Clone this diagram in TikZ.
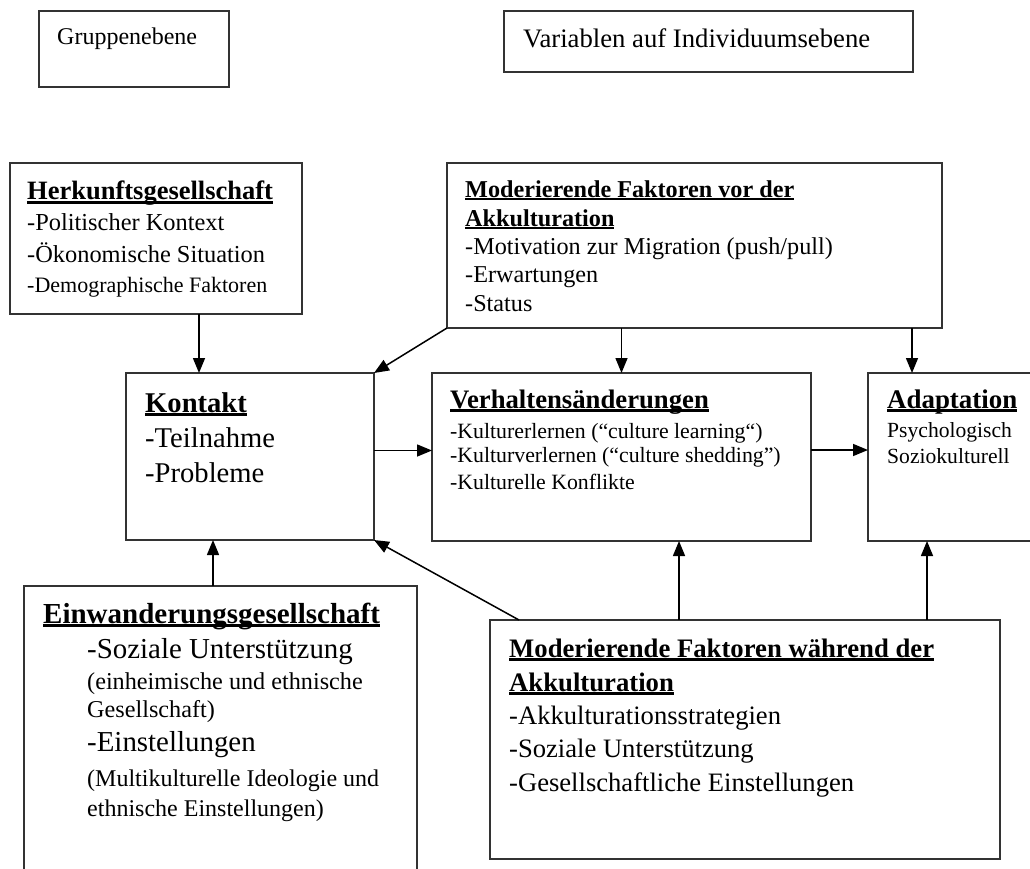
\documentclass[tikz,border=0pt]{standalone}
\usepackage{fontspec}
\setmainfont{Liberation Serif}
\usepackage{xcolor}
\usepackage{tikz}
\usetikzlibrary{arrows.meta,positioning,calc}

\newcommand{\fs}[1]{\fontsize{#1}{#1}\selectfont}
\newsavebox{\headbox}
\newcommand{\ulhead}[1]{\sbox{\headbox}{\bfseries #1}\rlap{\usebox{\headbox}}\raisebox{-0.14em}{\rule{\wd\headbox}{0.09em}}}

\tikzset{
  box/.style={draw=black!80, line width=1.5pt, inner sep=0pt, outer sep=0pt, anchor=north west},
  txt/.style={anchor=base west, inner sep=0pt},
  arr/.style={-{Triangle[length=15pt,width=12pt]}, line width=1.5pt}
}

\begin{document}
\begin{tikzpicture}[x=1pt,y=-1pt]
\useasboundingbox (0,0) rectangle (1030,869);
\clip (0,0) rectangle (1030,869);

% Ebenen
\node[box, minimum width=190pt, minimum height=76pt] (grp) at (39,11) {};
\node[txt, font=\fs{24}] (grp0) at (57,45) {Gruppenebene};
\node[box, minimum width=409pt, minimum height=61pt] (ind) at (504,11) {};
\node[txt, font=\fs{26.7}] (ind0) at (523,48) {Variablen auf Individuumsebene};

% Herkunftsgesellschaft
\node[box, minimum width=292pt, minimum height=151pt] (herk) at (10,163) {};
\node[txt, font=\fs{26.5}] (herk0) at (27,200) {\ulhead{Herkunftsgesellschaft}};
\node[txt, font=\fs{24.4}] (herk1) at (27,230) {-Politischer Kontext};
\node[txt, font=\fs{24.4}] (herk2) at (27,262) {-Ökonomische Situation};
\node[txt, font=\fs{22}] (herk3) at (27,292) {-Demographische Faktoren};

% Moderierende Faktoren vor der Akkulturation
\node[box, minimum width=495pt, minimum height=165pt] (vor) at (447,163) {};
\node[txt, font=\fs{24.2}] (vor0) at (465,197) {\ulhead{Moderierende Faktoren vor der}};
\node[txt, font=\fs{24.2}] (vor1) at (465,226) {\ulhead{Akkulturation}};
\node[txt, font=\fs{24.2}] (vor2) at (465,254) {-Motivation zur Migration (push/pull)};
\node[txt, font=\fs{24.2}] (vor3) at (465,282) {-Erwartungen};
\node[txt, font=\fs{24.2}] (vor4) at (465,311) {-Status};

% Kontakt
\node[box, minimum width=248pt, minimum height=167pt] (kon) at (126,373) {};
\node[txt, font=\fs{28.6}] (kon0) at (145,412) {\ulhead{Kontakt}};
\node[txt, font=\fs{28.6}] (kon1) at (145,447) {-Teilnahme};
\node[txt, font=\fs{28.6}] (kon2) at (145,482) {-Probleme};

% Verhaltensaenderungen
\node[box, minimum width=379pt, minimum height=168pt] (verh) at (432,373) {};
\node[txt, font=\fs{26.7}] (verh0) at (450,408) {\ulhead{Verhaltensänderungen}};
\node[txt, font=\fs{21.8}] (verh1) at (450,438) {-Kulturerlernen (“culture learning“)};
\node[txt, font=\fs{21.8}] (verh2) at (450,462) {-Kulturverlernen (“culture shedding”)};
\node[txt, font=\fs{21.8}] (verh3) at (450,489) {-Kulturelle Konflikte};

% Adaptation
\node[box, minimum width=180pt, minimum height=168pt] (adap) at (868,373) {};
\node[txt, font=\fs{26.9}] (adap0) at (887,408) {\ulhead{Adaptation}};
\node[txt, font=\fs{21.6}] (adap1) at (887,437) {Psychologisch};
\node[txt, font=\fs{21.6}] (adap2) at (887,463) {Soziokulturell};

% Einwanderungsgesellschaft
\node[box, minimum width=393pt, minimum height=300pt] (einw) at (24,586) {};
\node[txt, font=\fs{29}] (einw0) at (43,623) {\ulhead{Einwanderungsgesellschaft}};
\node[txt, font=\fs{28.9}] (einw1) at (87,658) {-Soziale Unterstützung};
\node[txt, font=\fs{24.2}] (einw2) at (87,689) {(einheimische und ethnische};
\node[txt, font=\fs{24.2}] (einw3) at (87,717) {Gesellschaft)};
\node[txt, font=\fs{28.9}] (einw4) at (87,751) {-Einstellungen};
\node[txt, font=\fs{24}] (einw5) at (87,786) {(Multikulturelle Ideologie und};
\node[txt, font=\fs{24}] (einw6) at (87,816) {ethnische Einstellungen)};

% Moderierende Faktoren waehrend der Akkulturation
\node[box, minimum width=510pt, minimum height=239pt] (waehr) at (490,620) {};
\node[txt, font=\fs{26.7}] (waehr0) at (509,657) {\ulhead{Moderierende Faktoren während der}};
\node[txt, font=\fs{26.7}] (waehr1) at (509,691) {\ulhead{Akkulturation}};
\node[txt, font=\fs{26.6}] (waehr2) at (509,724) {-Akkulturationsstrategien};
\node[txt, font=\fs{26.6}] (waehr3) at (509,757) {-Soziale Unterstützung};
\node[txt, font=\fs{26.6}] (waehr4) at (509,791) {-Gesellschaftliche Einstellungen};

% Pfeile
\draw[arr] ([xshift=189pt]herk.south west) -- ([xshift=189pt]herk.south west |- kon.north);
\draw[arr] (vor.south west) -- (kon.north east);
\draw[arr] (verh.north |- vor.south) -- (verh.north);
\draw[arr] ([xshift=44pt]adap.north west |- vor.south) -- ([xshift=44pt]adap.north west);
\draw[arr] ([yshift=6pt]kon.east) -- ([yshift=6pt]kon.east -| verh.west);
\draw[arr] ([yshift=7pt]verh.east) -- ([yshift=7pt]verh.east -| adap.west);
\draw[arr] ([xshift=189pt]einw.north west) -- ([xshift=189pt]einw.north west |- kon.south);
\draw[arr] ([xshift=29pt]waehr.north west) -- (kon.south east);
\draw[arr] ([xshift=189pt]waehr.north west) -- ([xshift=189pt]waehr.north west |- verh.south);
\draw[arr] ([xshift=437pt]waehr.north west) -- ([xshift=437pt]waehr.north west |- adap.south);
\end{tikzpicture}
\end{document}
